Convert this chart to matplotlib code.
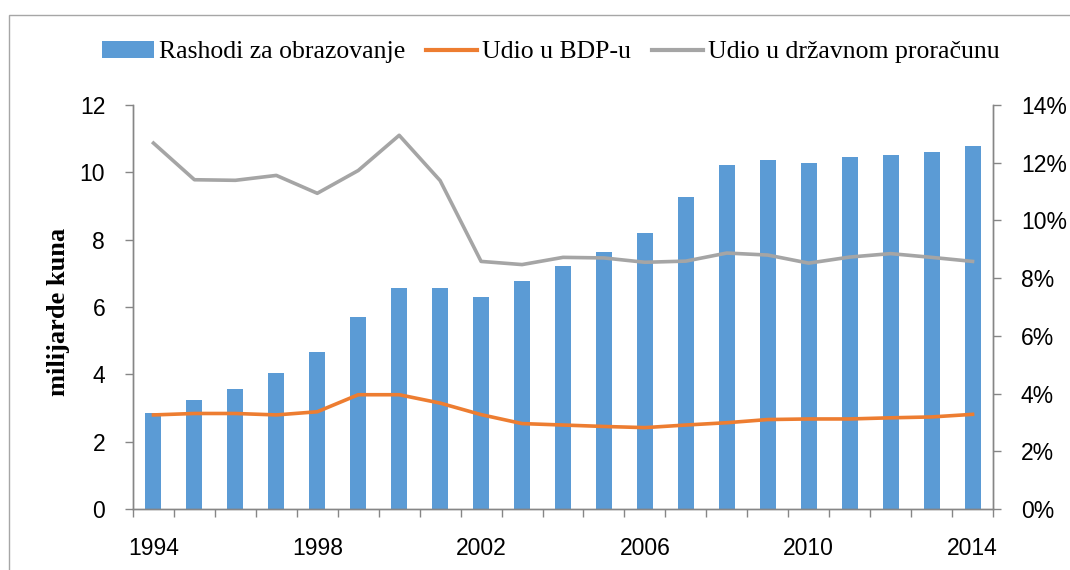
import matplotlib
matplotlib.use("Agg")
import matplotlib.pyplot as plt
from matplotlib.patches import Rectangle
from matplotlib.lines import Line2D
from matplotlib.patches import Patch

years = list(range(1994, 2015))
rashodi = [2.85, 3.25, 3.57, 4.03, 4.65, 5.70, 6.55, 6.57, 6.30, 6.78, 7.23,
           7.64, 8.21, 9.28, 10.23, 10.37, 10.27, 10.47, 10.51, 10.61, 10.77]
udio_bdp = [3.26, 3.31, 3.31, 3.26, 3.37, 3.96, 3.96, 3.67, 3.27, 2.96, 2.91,
            2.86, 2.82, 2.91, 2.99, 3.10, 3.12, 3.12, 3.16, 3.19, 3.28]
udio_proracun = [12.68, 11.41, 11.39, 11.56, 10.94, 11.73, 12.95, 11.38, 8.58, 8.47, 8.72,
                 8.70, 8.55, 8.59, 8.87, 8.80, 8.52, 8.73, 8.85, 8.72, 8.58]
left_ticks = [0, 2, 4, 6, 8, 10, 12]
right_ticks = [0, 2, 4, 6, 8, 10, 12, 14]
x_labels = [1994, 1998, 2002, 2006, 2010, 2014]

c_bar = "#5B9BD5"
c_orange = "#ED7D31"
c_gray = "#A5A5A5"
c_axis = "#868686"

W, H = 1070, 570
fig = plt.figure(figsize=(W / 100, H / 100), dpi=100)
fig.patch.set_facecolor("white")

# outer chart border
fig.add_artist(Rectangle((9 / W, -0.1), 1.2, 1 - 15 / H + 0.1, transform=fig.transFigure,
                         fill=False, edgecolor="#A6A6A6", lw=1.0))

ax = fig.add_axes([133 / W, (H - 509) / H, (993 - 133) / W, (509 - 105) / H])
ax.bar(years, rashodi, width=0.39, color=c_bar, zorder=2)
ax.set_xlim(1993.5, 2014.5)
ax.set_ylim(0, 12)
ax.set_yticks(left_ticks)
ax.set_yticklabels([str(v) for v in left_ticks])

ax2 = ax.twinx()
ax2.plot(years, udio_bdp, color=c_orange, lw=2.6, solid_joinstyle="round", zorder=3)
ax2.plot(years, udio_proracun, color=c_gray, lw=2.6, solid_joinstyle="round", zorder=3)
ax2.set_ylim(0, 14)
ax2.set_yticks(right_ticks)
ax2.set_yticklabels([f"{v}%" for v in right_ticks])

for a in (ax, ax2):
    a.spines["top"].set_visible(False)
    for s in ("left", "right", "bottom"):
        a.spines[s].set_color(c_axis)
        a.spines[s].set_linewidth(1.0)

ax.set_xticks(x_labels)
ax.set_xticklabels([str(v) for v in x_labels])
ax.set_xticks([1993.5 + k for k in range(22)], minor=True)
ax.tick_params(axis="x", which="major", length=0, pad=20, labelsize=16.5)
ax.tick_params(axis="x", which="minor", length=6, width=1, color=c_axis, direction="out")
ax.tick_params(axis="y", length=6, width=1, color=c_axis, pad=14, labelsize=16.5)
ax2.tick_params(axis="y", length=6, width=1, color=c_axis, pad=14, labelsize=16.5)
for lab in ax.get_xticklabels() + ax.get_yticklabels() + ax2.get_yticklabels():
    lab.set_fontfamily("Liberation Sans")

fig.text(58 / W, 1 - 312 / H, "milijarde kuna", rotation=90, ha="center", va="center",
         fontsize=19, fontweight="bold", fontfamily="Liberation Serif")

handles = [Patch(facecolor=c_bar, edgecolor="none"),
           Line2D([0], [0], color=c_orange, lw=3),
           Line2D([0], [0], color=c_gray, lw=3)]
labels = ["Rashodi za obrazovanje", "Udio u BDP-u", "Udio u državnom proračunu"]
leg = fig.legend(handles, labels, loc="center", bbox_to_anchor=(551 / W, 1 - 52 / H),
                 ncol=3, frameon=False, handlelength=2.0, handleheight=0.7,
                 handletextpad=0.2, columnspacing=0.8,
                 prop={"family": "Liberation Serif", "size": 18.5})

fig.savefig("out.png", dpi=100, facecolor="white")
